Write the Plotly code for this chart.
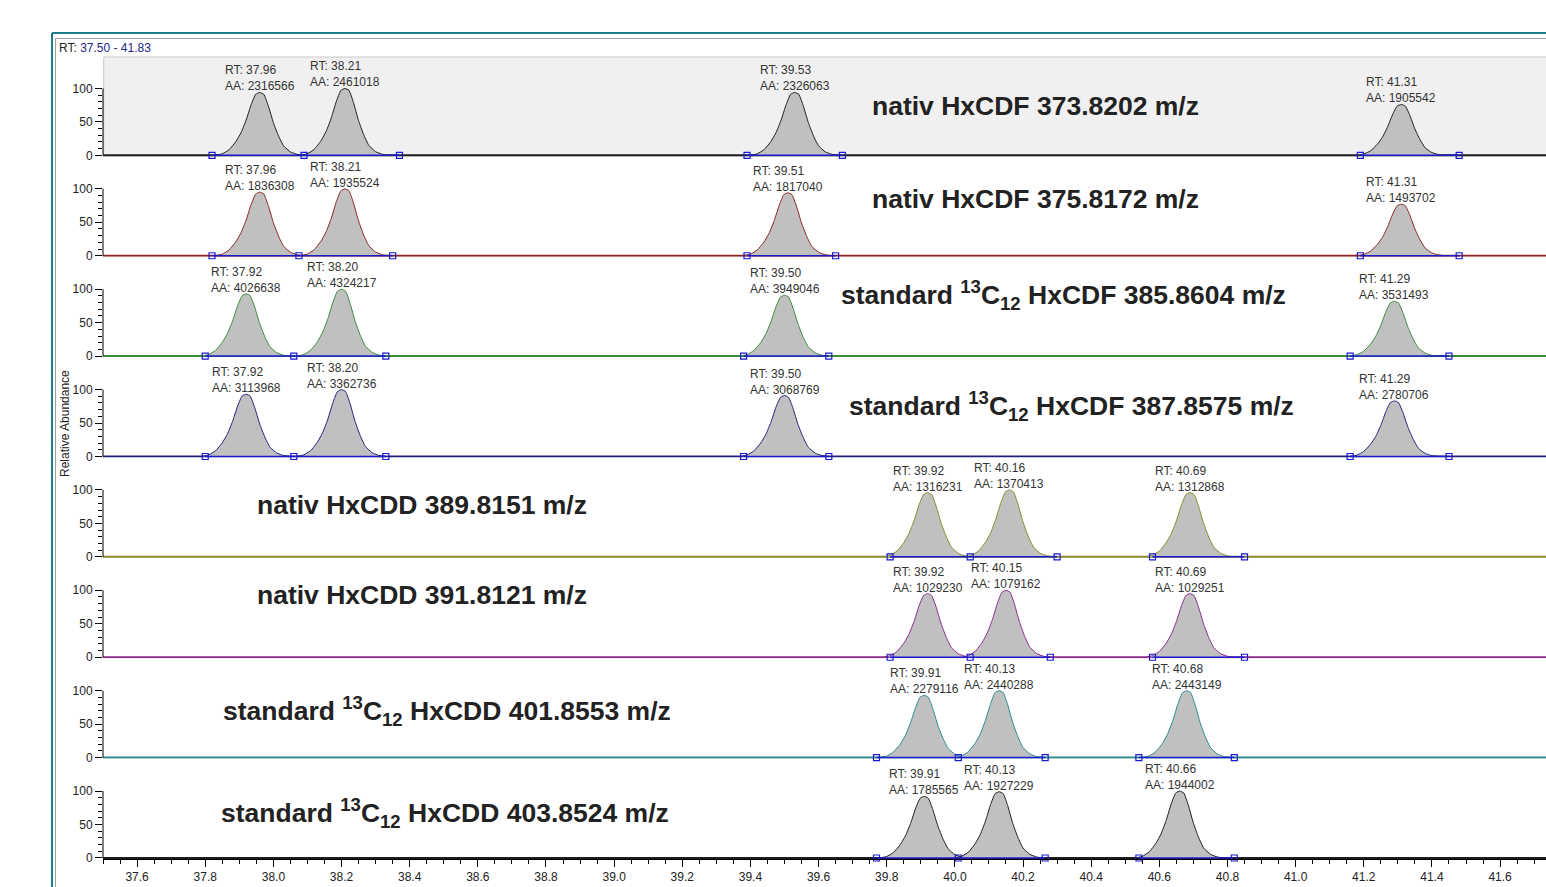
import plotly.graph_objects as go
from plotly.subplots import make_subplots

# ---------------- data ----------------
panel_titles = [
    "nativ HxCDF 373.8202 m/z",
    "nativ HxCDF 375.8172 m/z",
    "standard <sup>13</sup>C<sub>12</sub> HxCDF 385.8604 m/z",
    "standard <sup>13</sup>C<sub>12</sub> HxCDF 387.8575 m/z",
    "nativ HxCDD 389.8151 m/z",
    "nativ HxCDD 391.8121 m/z",
    "standard <sup>13</sup>C<sub>12</sub> HxCDD 401.8553 m/z",
    "standard <sup>13</sup>C<sub>12</sub> HxCDD 403.8524 m/z",
]

peak_rt = [
    [37.96, 38.21, 39.53, 41.31],
    [37.96, 38.21, 39.51, 41.31],
    [37.92, 38.20, 39.50, 41.29],
    [37.92, 38.20, 39.50, 41.29],
    [39.92, 40.16, 40.69],
    [39.92, 40.15, 40.69],
    [39.91, 40.13, 40.68],
    [39.91, 40.13, 40.66],
]

peak_area = [
    [2316566, 2461018, 2326063, 1905542],
    [1836308, 1935524, 1817040, 1493702],
    [4026638, 4324217, 3949046, 3531493],
    [3113968, 3362736, 3068769, 2780706],
    [1316231, 1370413, 1312868],
    [1029230, 1079162, 1029251],
    [2279116, 2440288, 2443149],
    [1785565, 1927229, 1944002],
]

peak_height = [
    [94, 100, 94, 76],
    [95, 100, 94, 77],
    [93, 100, 91, 82],
    [93, 100, 91, 83],
    [96, 100, 96],
    [95, 100, 95],
    [93, 100, 100],
    [92, 99, 100],
]

# integration boundaries (blue square markers), grouped per integrated cluster
peak_bounds = [
    [[37.82, 38.09, 38.37], [39.39, 39.67], [41.19, 41.48]],
    [[37.82, 38.075, 38.35], [39.39, 39.65], [41.19, 41.48]],
    [[37.80, 38.06, 38.33], [39.38, 39.63], [41.16, 41.45]],
    [[37.80, 38.06, 38.33], [39.38, 39.63], [41.16, 41.45]],
    [[39.81, 40.045, 40.30], [40.58, 40.85]],
    [[39.81, 40.045, 40.28], [40.58, 40.85]],
    [[39.77, 40.01, 40.265], [40.54, 40.82]],
    [[39.77, 40.01, 40.265], [40.54, 40.82]],
]

# shape of one chromatographic peak (offset from apex in min, % of apex)
profile_offset = [-0.13, -0.11, -0.09, -0.07, -0.055, -0.04, -0.025, -0.012, 0.0,
                  0.012, 0.025, 0.04, 0.055, 0.07, 0.09, 0.11, 0.13]
profile_level = [0, 2.5, 9, 22, 36, 56, 81, 97, 100, 97, 79, 52, 31, 15, 5.5, 1.5, 0]

rt_range = [37.50, 41.83]
x_ticks_major = [37.6, 37.8, 38.0, 38.2, 38.4, 38.6, 38.8, 39.0, 39.2, 39.4,
                 39.6, 39.8, 40.0, 40.2, 40.4, 40.6, 40.8, 41.0, 41.2, 41.4, 41.6]
y_ticks_major = [0, 50, 100]
y_ticks_minor = [10, 20, 30, 40, 60, 70, 80, 90]

# ---------------- styles / layout positions ----------------
trace_colors = ["#1e1e1e", "#8b2525", "#3a8a3a", "#20207c",
                "#8a8a2a", "#8b2a8b", "#2a8a8a", "#1e1e1e"]
title_pos = [(39.751, 73), (39.751, 85), (39.66, 91), (39.684, 75),
             (37.946, 78), (37.946, 93), (37.846, 69), (37.84, 67)]

FONT = "Liberation Sans, Arial, sans-serif"
W, H = 1546, 887
ML, MT, MB = 103, 56, 28
plot_w = W - ML
plot_h = H - MT - MB


def px_x(px):
    return (px - ML) / plot_w


def px_y(py):
    return (H - MB - py) / plot_h


n = len(panel_titles)
fig = make_subplots(rows=n, cols=1, shared_xaxes=True, vertical_spacing=0)

for i in range(n):
    row = i + 1
    col = trace_colors[i]
    xr = "x" if row == 1 else f"x{row}"
    yr = "y" if row == 1 else f"y{row}"
    # chromatogram baseline
    fig.add_trace(go.Scatter(x=rt_range, y=[0, 0], mode="lines",
                             line=dict(color=col, width=2), hoverinfo="skip",
                             showlegend=False), row=row, col=1)
    # peaks
    for rt, h in zip(peak_rt[i], peak_height[i]):
        xs = [rt + o for o in profile_offset]
        ys = [h * v / 100 for v in profile_level]
        fig.add_trace(go.Scatter(x=xs, y=ys, mode="lines", fill="tozeroy",
                                 fillcolor="#c0c0c0",
                                 line=dict(color=col, width=1, shape="spline", smoothing=0.4),
                                 showlegend=False, hoverinfo="skip"), row=row, col=1)
    # integration baselines + boundary markers
    for grp in peak_bounds[i]:
        fig.add_trace(go.Scatter(x=[grp[0], grp[-1]], y=[0, 0], mode="lines",
                                 line=dict(color="#1a1ad0", width=1.5),
                                 showlegend=False, hoverinfo="skip"), row=row, col=1)
        fig.add_trace(go.Scatter(x=grp, y=[0] * len(grp), mode="markers",
                                 marker=dict(symbol="square-open", size=6,
                                             color="#1a1ad0", line=dict(width=1.2, color="#1a1ad0")),
                                 cliponaxis=False, showlegend=False, hoverinfo="skip"),
                      row=row, col=1)
    # peak labels
    for rt, h, aa in zip(peak_rt[i], peak_height[i], peak_area[i]):
        fig.add_annotation(x=rt, y=h, xref=xr, yref=yr,
                           text=f"RT: {rt:.2f}<br>AA: {aa}", showarrow=False,
                           xanchor="center", yanchor="bottom", align="left",
                           yshift=-3, font=dict(family=FONT, size=12, color="#333333"))
    # panel title
    tx, ty = title_pos[i]
    fig.add_annotation(x=tx, y=ty, xref=xr, yref=yr,
                       text=panel_titles[i], showarrow=False, xanchor="left",
                       yanchor="middle",
                       font=dict(family=FONT, size=26.5, color="#222222", weight="bold"))
    # y axis
    yname = "yaxis" if row == 1 else f"yaxis{row}"
    fig.update_layout({yname: dict(range=[-1.5, 148.4], tickvals=y_ticks_major,
                                   ticks="outside", ticklen=7, tickcolor="#000",
                                   tickwidth=1, showline=False, showgrid=False,
                                   zeroline=False,
                                   tickfont=dict(family=FONT, size=12, color="#222"),
                                   minor=dict(tickvals=y_ticks_minor, ticks="outside",
                                              ticklen=4, tickcolor="#000", showgrid=False))})
    # y axis line only from 0 to 100
    fig.add_shape(type="line", xref="paper", yref=yr,
                  x0=0, x1=0, y0=0, y1=100, line=dict(color="#000", width=1))
    # x axes
    xname = "xaxis" if row == 1 else f"xaxis{row}"
    if row < n:
        fig.update_layout({xname: dict(range=[37.5, 37.5 + plot_w / 340.75],
                                       showticklabels=False, ticks="",
                                       showline=False, showgrid=False, zeroline=False)})
    else:
        fig.update_layout({xname: dict(range=[37.5, 37.5 + plot_w / 340.75],
                                       tickvals=x_ticks_major, tickformat=".1f",
                                       ticks="outside", ticklen=7, tickcolor="#000",
                                       showline=True, linecolor="#000", linewidth=1,
                                       showgrid=False, zeroline=False,
                                       tickfont=dict(family=FONT, size=12, color="#222"),
                                       minor=dict(dtick=0.05, tick0=37.5, ticks="outside",
                                                  ticklen=4, tickcolor="#000", showgrid=False))})

# panel-1 light gray background
fig.add_shape(type="rect", xref="paper", yref="y domain", x0=0.0005, x1=1.01, y0=0, y1=0.99,
              fillcolor="#f0f0f0", line=dict(color="#c8c8c8", width=1), layer="below")

# window frame
fig.add_shape(type="line", xref="paper", yref="paper", x0=px_x(52), x1=px_x(52),
              y0=px_y(33), y1=px_y(890), line=dict(color="#1f7a8c", width=2))
fig.add_shape(type="line", xref="paper", yref="paper", x0=px_x(52), x1=1.01,
              y0=px_y(33), y1=px_y(33), line=dict(color="#1f7a8c", width=2))
fig.add_shape(type="line", xref="paper", yref="paper", x0=px_x(55.5), x1=1.01,
              y0=px_y(38.5), y1=px_y(38.5), line=dict(color="#a0a0a0", width=1))
fig.add_shape(type="line", xref="paper", yref="paper", x0=px_x(55.5), x1=px_x(55.5),
              y0=px_y(38.5), y1=px_y(890), line=dict(color="#a0a0a0", width=1))

fig.add_annotation(xref="paper", yref="paper", x=px_x(57), y=px_y(48),
                   xanchor="left", yanchor="middle", showarrow=False,
                   text="RT: <span style='color:#24248a'>37.50 - 41.83</span>",
                   font=dict(family=FONT, size=12, color="#222"))
fig.add_annotation(xref="paper", yref="paper", x=px_x(65), y=px_y(424),
                   xanchor="center", yanchor="middle", showarrow=False, textangle=-90,
                   text="Relative Abundance",
                   font=dict(family=FONT, size=12, color="#222"))

fig.update_layout(width=W, height=H, margin=dict(l=ML, r=0, t=MT, b=MB),
                  paper_bgcolor="white", plot_bgcolor="rgba(0,0,0,0)",
                  showlegend=False, font=dict(family=FONT))

fig.write_html("out.html", config={"displayModeBar": False},
               post_script="document.body.style.margin='0';"
                           "document.body.style.overflow='hidden';")
